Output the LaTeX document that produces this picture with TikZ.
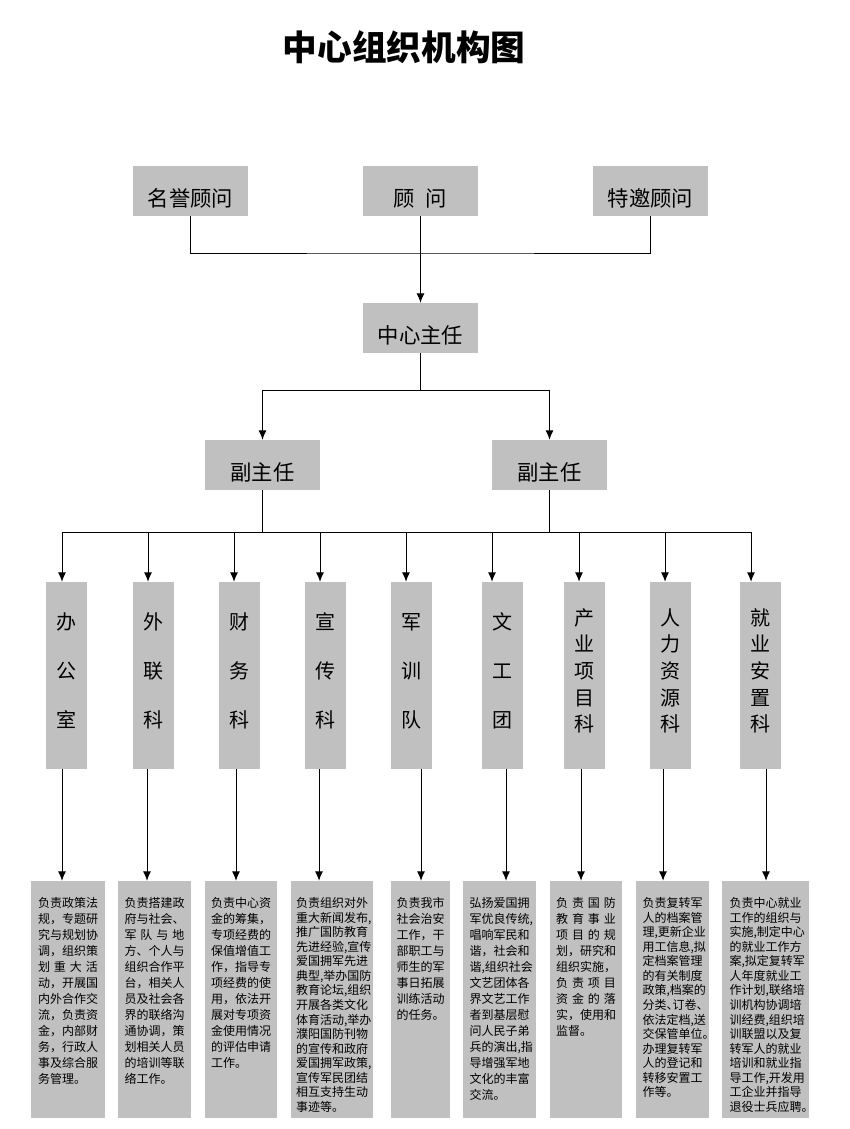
\documentclass[tikz,border=0pt]{standalone}
\usepackage{fontspec}
\setmainfont{Noto Sans CJK SC}
\usepackage{xcolor}
\usepackage{tikz}
\usetikzlibrary{arrows.meta}

\definecolor{boxgray}{RGB}{192,192,192}
\newcommand\spreadline[1]{\makebox[\hsize][s]{#1}}

\begin{document}
\begin{tikzpicture}[
    x=0.75pt, y=-0.75pt,
    box/.style={rectangle, fill=boxgray, inner sep=0pt, align=center, font=\fontsize{16pt}{19pt}\selectfont},
    head/.style={box, minimum width=86.25pt, minimum height=37.5pt, text height=24.5pt, text depth=2pt},
    dept/.style={box, minimum width=30.75pt, minimum height=140.25pt, text depth=8pt, font=\fontsize{15pt}{36.75pt}\selectfont},
    deptlong/.style={dept, font=\fontsize{15pt}{20pt}\selectfont},
    note/.style={rectangle, fill=boxgray, inner sep=0pt, minimum height=177.75pt},
    notetext/.style={anchor=north, inner sep=0pt, align=left, font=\fontsize{9pt}{12pt}\selectfont},
    notetight/.style={notetext, font=\fontsize{9pt}{10.9pt}\selectfont},
    line/.style={draw, line width=0.75pt},
    arrow/.style={line, -{Latex[length=7pt,width=6pt]}}
]
\useasboundingbox (0,0) rectangle (850,1129);

% Title
\node[font=\fontsize{26pt}{30pt}\selectfont\bfseries] (title) at (404,47) {中心组织机构图};

% Advisers
\node[head] (honor) at (190.5,191) {名誉顾问};
\node[head] (adviser) at (420.5,191) {顾\enspace 问};
\node[head] (special) at (650.5,191) {特邀顾问};

% Director and deputies
\node[head] (director) at (420.5,328) {中心主任};
\node[head] (deputyA) at (262.5,465) {副主任};
\node[head] (deputyB) at (549.5,465) {副主任};

% Departments
\node[dept] (office) at (66.5,675.5) {办\\公\\室};
\node[dept] (liaison) at (153,675.5) {外\\联\\科};
\node[dept] (finance) at (239,675.5) {财\\务\\科};
\node[dept] (publicity) at (325,675.5) {宣\\传\\科};
\node[dept] (training) at (411.5,675.5) {军\\训\\队};
\node[dept] (troupe) at (502,675.5) {文\\工\\团};
\node[deptlong] (industry) at (584,675.5) {产\\业\\项\\目\\科};
\node[deptlong] (personnel) at (670,675.5) {人\\力\\资\\源\\科};
\node[deptlong] (placement) at (760.5,675.5) {就\\业\\安\\置\\科};

% Duty notes
\node[note, minimum width=55.5pt] (note1) at (68,999.5) {};
\node[note, minimum width=54.75pt] (note2) at (154.5,999.5) {};
\node[note, minimum width=54pt] (note3) at (241,999.5) {};
\node[note, minimum width=61.5pt] (note4) at (332,999.5) {};
\node[note, minimum width=44.25pt] (note5) at (420.5,999.5) {};
\node[note, minimum width=54.75pt] (note6) at (499.5,999.5) {};
\node[note, minimum width=54pt] (note7) at (586,999.5) {};
\node[note, minimum width=54.75pt] (note8) at (672.5,999.5) {};
\node[note, minimum width=65.25pt] (note9) at (765.5,999.5) {};

\node[notetext, text width=45pt] at ([yshift=-12.5pt]note1.north) {负责政策法\\规，专题研\\究与规划协\\调，组织策\\\spreadline{划 重 大 活}\\动，开展国\\内外合作交\\流，负责资\\金，内部财\\务，行政人\\事及综合服\\务管理。};
\node[notetext, text width=45pt] at ([yshift=-12.5pt]note2.north) {负责搭建政\\府与社会、\\\spreadline{军 队 与 地}\\方、个人与\\组织合作平\\台，相关人\\员及社会各\\界的联络沟\\通协调，策\\划相关人员\\的培训等联\\络工作。};
\node[notetext, text width=45pt] at ([yshift=-12.5pt]note3.north) {负责中心资\\金的筹集，\\专项经费的\\保值增值工\\作，指导专\\项经费的使\\用，依法开\\展对专项资\\金使用情况\\的评估申请\\工作。};
\node[notetight, text width=54pt] at ([yshift=-12.5pt]note4.north) {负责组织对外\\重大新闻发布,\\推广国防教育\\先进经验,宣传\\爱国拥军先进\\典型,举办国防\\教育论坛,组织\\开展各类文化\\体育活动,举办\\濮阳国防刊物\\的宣传和政府\\爱国拥军政策,\\宣传军民团结\\相互支持生动\\事迹等。};
\node[notetext, text width=36pt] at ([yshift=-12.5pt]note5.north) {负责我市\\社会治安\\工作，干\\部职工与\\师生的军\\事日拓展\\训练活动\\的任务。};
\node[notetext, text width=45pt] at ([yshift=-12.5pt]note6.north) {弘扬爱国拥\\军优良传统,\\唱响军民和\\谐，社会和\\谐,组织社会\\文艺团体各\\界文艺工作\\者到基层慰\\问人民子弟\\兵的演出,指\\导增强军地\\文化的丰富\\交流。};
\node[notetext, text width=45pt] at ([yshift=-12.5pt]note7.north) {\spreadline{负 责 国 防}\\\spreadline{教 育 事 业}\\\spreadline{项 目 的 规}\\划，研究和\\组织实施，\\\spreadline{负 责 项 目}\\\spreadline{资 金 的 落}\\实，使用和\\监督。};
\node[notetight, text width=45pt] at ([yshift=-12.5pt]note8.north) {负责复转军\\人的档案管\\理,更新企业\\用工信息,拟\\定档案管理\\的有关制度\\政策,档案的\\分类、\kern-.5em 订卷、\\依法定档,送\\交保管单位。\\办理复转军\\人的登记和\\转移安置工\\作等。};
\node[notetight, text width=54pt] at ([yshift=-12.5pt]note9.north) {负责中心就业\\工作的组织与\\实施,制定中心\\的就业工作方\\案,拟定复转军\\人年度就业工\\作计划,联络培\\训机构协调培\\训经费,组织培\\训联盟以及复\\转军人的就业\\培训和就业指\\导工作,开发用\\工企业并指导\\退役士兵应聘。};

% Junction points
\coordinate (topbus) at (420.5,253);
\coordinate (midbus) at (420.5,390);
\coordinate (b1) at (62,532);
\coordinate (b2) at (148,532);
\coordinate (b3) at (234,532);
\coordinate (b4) at (320,532);
\coordinate (b5) at (406,532);
\coordinate (b6) at (492,532);
\coordinate (b7) at (579,532);
\coordinate (b8) at (665,532);
\coordinate (b9) at (751,532);
\coordinate (c1) at (62,825);
\coordinate (c2) at (147,825);
\coordinate (c3) at (236,825);
\coordinate (c4) at (319,825);
\coordinate (c5) at (421,825);
\coordinate (c6) at (506,825);
\coordinate (c7) at (581,825);
\coordinate (c8) at (663,825);
\coordinate (c9) at (766,825);

% Advisers to director
\draw[line] (honor.south) |- (topbus) -| (special.south);
\draw[line] (adviser.south) -- (topbus);
\draw[arrow] (topbus) -- (director.north);

% Director to deputies
\draw[line] (director.south) -- (midbus);
\draw[arrow] (midbus) -| (deputyA.north);
\draw[arrow] (midbus) -| (deputyB.north);

% Deputies to departments
\draw[line] (deputyA.south) -- (deputyA.south |- b1);
\draw[line] (deputyB.south) -- (deputyB.south |- b1);
\draw[line] (b1) -- (b9);
\draw[arrow] (b1) -- (b1 |- office.north);
\draw[arrow] (b2) -- (b2 |- liaison.north);
\draw[arrow] (b3) -- (b3 |- finance.north);
\draw[arrow] (b4) -- (b4 |- publicity.north);
\draw[arrow] (b5) -- (b5 |- training.north);
\draw[arrow] (b6) -- (b6 |- troupe.north);
\draw[arrow] (b7) -- (b7 |- industry.north);
\draw[arrow] (b8) -- (b8 |- personnel.north);
\draw[arrow] (b9) -- (b9 |- placement.north);

% Departments to duties
\draw[arrow] (office.south -| c1) -- (c1 |- note1.north);
\draw[arrow] (liaison.south -| c2) -- (c2 |- note2.north);
\draw[arrow] (finance.south -| c3) -- (c3 |- note3.north);
\draw[arrow] (publicity.south -| c4) -- (c4 |- note4.north);
\draw[arrow] (training.south -| c5) -- (c5 |- note5.north);
\draw[arrow] (troupe.south -| c6) -- (c6 |- note6.north);
\draw[arrow] (industry.south -| c7) -- (c7 |- note7.north);
\draw[arrow] (personnel.south -| c8) -- (c8 |- note8.north);
\draw[arrow] (placement.south -| c9) -- (c9 |- note9.north);

\end{tikzpicture}
\end{document}
